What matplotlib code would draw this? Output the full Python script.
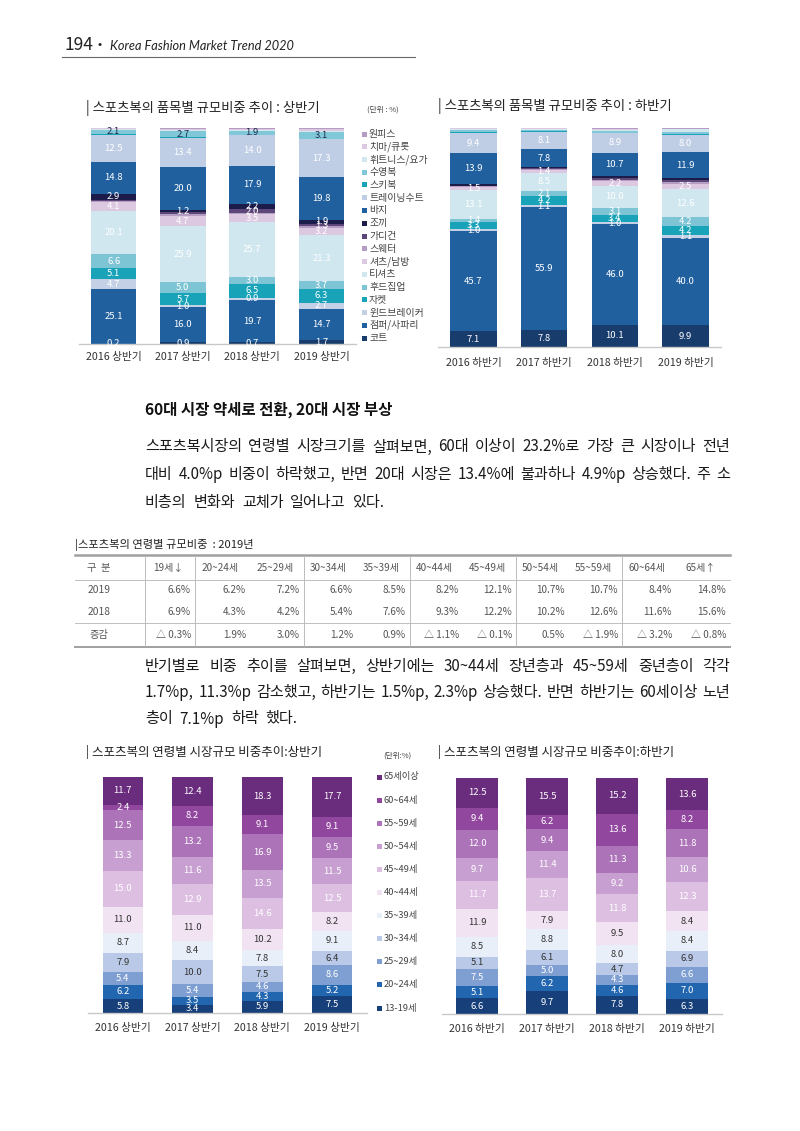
import matplotlib
matplotlib.use('Agg')
import matplotlib.pyplot as plt
from matplotlib.patches import Rectangle
from matplotlib.lines import Line2D
import numpy as np

plt.rcParams['font.family'] = ['Noto Sans CJK KR', 'DejaVu Sans']

# ---------------- data ----------------
cats_h1 = ['2016 상반기', '2017 상반기', '2018 상반기', '2019 상반기']
cats_h2 = ['2016 하반기', '2017 하반기', '2018 하반기', '2019 하반기']

items = ['코트', '점퍼/사파리', '윈드브레이커', '자켓', '후드집업', '티셔츠', '셔츠/남방',
         '스웨터', '가디건', '조끼', '바지', '트레이닝수트', '스키복', '수영복',
         '휘트니스/요가', '치마/큐롯', '원피스']

item_h1 = {
    '코트': [0.2, 0.9, 0.7, 1.7],
    '점퍼/사파리': [25.1, 16.0, 19.7, 14.7],
    '윈드브레이커': [4.7, 1.0, 0.9, 2.7],
    '자켓': [5.1, 5.7, 6.5, 6.3],
    '후드집업': [6.6, 5.0, 3.0, 3.7],
    '티셔츠': [20.1, 25.9, 25.7, 21.3],
    '셔츠/남방': [4.1, 4.7, 3.5, 3.2],
    '스웨터': [0.5, 0.8, 0.5, 0.8],
    '가디건': [0.3, 0.9, 2.0, 1.3],
    '조끼': [2.9, 1.2, 2.2, 1.9],
    '바지': [14.8, 20.0, 17.9, 19.8],
    '트레이닝수트': [12.5, 13.4, 14.0, 17.3],
    '스키복': [0.2, 0.3, 0.3, 0.3],
    '수영복': [2.1, 2.7, 1.9, 3.1],
    '휘트니스/요가': [0.4, 0.6, 0.3, 0.6],
    '치마/큐롯': [0.2, 0.6, 0.6, 0.9],
    '원피스': [0.2, 0.3, 0.3, 0.4],
}
item_h2 = {
    '코트': [7.1, 7.8, 10.1, 9.9],
    '점퍼/사파리': [45.7, 55.9, 46.0, 40.0],
    '윈드브레이커': [1.0, 1.1, 1.0, 1.1],
    '자켓': [3.3, 4.2, 3.4, 4.2],
    '후드집업': [1.4, 2.1, 3.1, 4.2],
    '티셔츠': [13.1, 8.5, 10.0, 12.6],
    '셔츠/남방': [1.5, 1.4, 2.2, 2.5],
    '스웨터': [0.3, 0.3, 0.6, 0.8],
    '가디건': [0.3, 0.3, 0.8, 0.9],
    '조끼': [0.8, 0.8, 0.9, 0.9],
    '바지': [13.9, 7.8, 10.7, 11.9],
    '트레이닝수트': [9.4, 8.1, 8.9, 8.0],
    '스키복': [0.2, 0.2, 0.2, 0.2],
    '수영복': [0.9, 0.7, 0.8, 0.8],
    '휘트니스/요가': [0.7, 0.4, 0.6, 1.4],
    '치마/큐롯': [0.2, 0.2, 0.4, 0.3],
    '원피스': [0.2, 0.2, 0.3, 0.3],
}
item_colors = {
    '코트': '#183c6c', '점퍼/사파리': '#21609f', '윈드브레이커': '#c3d0e6',
    '자켓': '#18a3b9', '후드집업': '#7dc4d4', '티셔츠': '#d0e7ef',
    '셔츠/남방': '#dcc8e1', '스웨터': '#b59cc3', '가디건': '#5d4678',
    '조끼': '#1b1c4a', '바지': '#21609f', '트레이닝수트': '#c0cee5',
    '스키복': '#18a3b9', '수영복': '#80c8d8', '휘트니스/요가': '#d3e7ee',
    '치마/큐롯': '#dcc8e1', '원피스': '#b59cc3',
}
quiet_items = ['스키복', '휘트니스/요가', '치마/큐롯', '원피스']

ages = ['13-19세', '20~24세', '25~29세', '30~34세', '35~39세', '40~44세',
        '45~49세', '50~54세', '55~59세', '60~64세', '65세이상']
age_h1 = {
    '13-19세': [5.8, 3.4, 5.9, 7.5],
    '20~24세': [6.2, 3.5, 4.3, 5.2],
    '25~29세': [5.4, 5.4, 4.6, 8.6],
    '30~34세': [7.9, 10.0, 7.5, 6.4],
    '35~39세': [8.7, 8.4, 7.8, 9.1],
    '40~44세': [11.0, 11.0, 10.2, 8.2],
    '45~49세': [15.0, 12.9, 14.6, 12.5],
    '50~54세': [13.3, 11.6, 13.5, 11.5],
    '55~59세': [12.5, 13.2, 16.9, 9.5],
    '60~64세': [2.4, 8.2, 9.1, 9.1],
    '65세이상': [11.7, 12.4, 18.3, 17.7],
}
age_h2 = {
    '13-19세': [6.6, 9.7, 7.8, 6.3],
    '20~24세': [5.1, 6.2, 4.6, 7.0],
    '25~29세': [7.5, 5.0, 4.3, 6.6],
    '30~34세': [5.1, 6.1, 4.7, 6.9],
    '35~39세': [8.5, 8.8, 8.0, 8.4],
    '40~44세': [11.9, 7.9, 9.5, 8.4],
    '45~49세': [11.7, 13.7, 11.8, 12.3],
    '50~54세': [9.7, 11.4, 9.2, 10.6],
    '55~59세': [12.0, 9.4, 11.3, 11.8],
    '60~64세': [9.4, 6.2, 13.6, 8.2],
    '65세이상': [12.5, 15.5, 15.2, 13.6],
}
age_colors = {
    '13-19세': '#173f7a', '20~24세': '#2266b0', '25~29세': '#7f9fd2',
    '30~34세': '#b9c9e7', '35~39세': '#e9eff9', '40~44세': '#f1e3f1',
    '45~49세': '#ddbfe2', '50~54세': '#c7a0d1', '55~59세': '#ac73b9',
    '60~64세': '#92479f', '65세이상': '#6a2c7d',
}
dark_label_ages = ['30~34세', '35~39세', '40~44세']

table_cols = ['19세↓', '20~24세', '25~29세', '30~34세', '35~39세', '40~44세',
              '45~49세', '50~54세', '55~59세', '60~64세', '65세↑']
share_2019 = [6.6, 6.2, 7.2, 6.6, 8.5, 8.2, 12.1, 10.7, 10.7, 8.4, 14.8]
share_2018 = [6.9, 4.3, 4.2, 5.4, 7.6, 9.3, 12.2, 10.2, 12.6, 11.6, 15.6]

para1 = ['스포츠복시장의 연령별 시장크기를 살펴보면, 60대 이상이 23.2%로 가장 큰 시장이나 전년',
         '대비 4.0%p 비중이 하락했고, 반면 20대 시장은 13.4%에 불과하나 4.9%p 상승했다. 주 소',
         '비층의 변화와 교체가 일어나고 있다.']
para2 = ['반기별로 비중 추이를 살펴보면, 상반기에는 30~44세 장년층과 45~59세 중년층이 각각',
         '1.7%p, 11.3%p 감소했고, 하반기는 1.5%p, 2.3%p 상승했다. 반면 하반기는 60세이상 노년',
         '층이 7.1%p 하락 했다.']

# ---------------- helpers ----------------
W, H = 800, 1131
fig = plt.figure(figsize=(8, 11.31), dpi=100)
fig.patch.set_facecolor('white')


def fx(x):
    return x / W


def fy(y):
    return 1 - y / H


def px_axes(x0, y0, x1, y1):
    ax = fig.add_axes([fx(x0), fy(y1), (x1 - x0) / W, (y1 - y0) / H])
    ax.patch.set_alpha(0)
    return ax


def hline(x0, x1, y, lw=0.8, color='#999999'):
    fig.add_artist(Line2D([fx(x0), fx(x1)], [fy(y), fy(y)], lw=lw, color=color,
                          transform=fig.transFigure))


def vline(x, y0, y1, lw=0.7, color='#bbbbbb'):
    fig.add_artist(Line2D([fx(x), fx(x)], [fy(y0), fy(y1)], lw=lw, color=color,
                          transform=fig.transFigure))


def ftext(x, y, s, **kw):
    kw.setdefault('va', 'center')
    return fig.text(fx(x), fy(y), s, **kw)


def stacked(ax, cats, names, data, colors, width, label_fn, pad):
    vals = np.array([data[n] for n in names], dtype=float)
    totals = vals.sum(axis=0)
    heights = vals / totals * 100.0
    x = np.arange(len(cats))
    bottom = np.zeros(len(cats))
    for i, n in enumerate(names):
        ax.bar(x, heights[i], width, bottom=bottom, color=colors[n], linewidth=0)
        for j in range(len(cats)):
            res = label_fn(n, vals[i, j])
            if res:
                ax.text(x[j], bottom[j] + heights[i, j] / 2, f'{vals[i, j]:.1f}',
                        ha='center', va='center', color=res, fontsize=6.8)
        bottom += heights[i]
    ax.set_xlim(-0.5, len(cats) - 0.5)
    ax.set_ylim(0, 100)
    ax.set_xticks(x, cats)
    ax.set_yticks([])
    for s in ['left', 'top', 'right']:
        ax.spines[s].set_visible(False)
    ax.spines['bottom'].set_color('#c8c8c8')
    ax.spines['bottom'].set_linewidth(1.0)
    ax.tick_params(axis='x', length=0, pad=pad, labelsize=7.7, labelcolor='#333333')


def item_label(n, v):
    if n in quiet_items:
        return None
    if v >= 1.0 or n in ('코트', '윈드브레이커'):
        return '#1d2b4f' if n == '수영복' else 'white'
    return None


def age_label(n, v):
    return '#333333' if n in dark_label_ages else 'white'


def legend(x, y0, step, names, colors, size):
    for k, n in enumerate(reversed(names)):
        y = y0 + k * step
        fig.add_artist(Rectangle((fx(x), fy(y + 2.5)), 5 / W, 5 / H, color=colors[n],
                                 transform=fig.transFigure, lw=0))
        ftext(x + 7, y, n, fontsize=size, color='#444444', ha='left')


renderer = fig.canvas.get_renderer()


def text_line(s, x0, x1, y, size, justify):
    words = s.split(' ')
    objs = [ftext(0, y, w, fontsize=size, ha='left', color='#1a1a1a') for w in words]
    widths = [o.get_window_extent(renderer).width for o in objs]
    if justify and len(words) > 1:
        gap = ((x1 - x0) - sum(widths)) / (len(words) - 1)
    else:
        gap = size * 0.45 * 100 / 72
    x = x0
    for o, w in zip(objs, widths):
        o.set_x(fx(x))
        x += w + gap


# ---------------- page header ----------------
ftext(65, 45, '194', fontsize=12.5, color='#222222', ha='left')
ftext(98, 45, '•', fontsize=9, color='#222222', ha='left')
ftext(110, 46, 'Korea Fashion Market Trend 2020', fontsize=9.2, style='italic',
      family=['Lato', 'DejaVu Sans'], color='#222222', ha='left')
hline(62, 415, 57, lw=0.8, color='#666666')

# ---------------- top charts ----------------
ftext(86, 108, '| 스포츠복의 품목별 규모비중 추이 : 상반기', fontsize=9.6, color='#222222', ha='left')
ftext(367, 110, '(단위 : %)', fontsize=5.5, color='#444444', ha='left')
ftext(438, 106, '| 스포츠복의 품목별 규모비중 추이 : 하반기', fontsize=9.6, color='#222222', ha='left')

ax1 = px_axes(79, 128, 356, 344)
stacked(ax1, cats_h1, items, item_h1, item_colors, 0.66, item_label, pad=6)
ax2 = px_axes(438, 128, 721, 347)
stacked(ax2, cats_h2, items, item_h2, item_colors, 0.66, item_label, pad=8)
legend(362, 134, 12.75, items, item_colors, 7.1)

# ---------------- heading and paragraph ----------------
ftext(145, 410, '60대 시장 약세로 전환, 20대 시장 부상', fontsize=11.2, weight='bold',
      color='#111111', ha='left')
for k, line in enumerate(para1):
    text_line(line, 145, 730, 447 + k * 27.5, 10.9, justify=(k < len(para1) - 1))

# ---------------- table ----------------
ftext(75, 545, '|스포츠복의 연령별 규모비중  : 2019년', fontsize=8.1, color='#222222', ha='left')
col_edges = [75, 145, 195, 250, 304, 357, 410, 463, 516, 569, 622, 676, 730]
hline(75, 730, 555, lw=1.8, color='#a0a0a0')
hline(75, 730, 580, lw=0.6, color='#b5b5b5')
hline(75, 730, 623, lw=0.6, color='#b5b5b5')
hline(75, 730, 647, lw=1.4, color='#a0a0a0')
for xs in [145, 195, 304, 410, 516, 622]:
    vline(xs, 556, 646)
row_y = [568, 590, 612, 635]
tcol = '#555555'
ftext(99, row_y[0], '구  분', fontsize=7.4, color=tcol, ha='center')
ftext(99, row_y[1], '2019', fontsize=7.4, color=tcol, ha='center')
ftext(99, row_y[2], '2018', fontsize=7.4, color=tcol, ha='center')
ftext(99, row_y[3], '증감', fontsize=7.4, color=tcol, ha='center')
for i, c in enumerate(table_cols):
    left, right = col_edges[i + 1], col_edges[i + 2]
    ftext((left + right) / 2 - 2, row_y[0], c, fontsize=7.2, color=tcol, ha='center')
    a, b = share_2019[i], share_2018[i]
    d = round(a - b, 1)
    ftext(right - 4, row_y[1], f'{a:.1f}%', fontsize=7.2, color=tcol, ha='right')
    ftext(right - 4, row_y[2], f'{b:.1f}%', fontsize=7.2, color=tcol, ha='right')
    dtxt = f'△ {abs(d):.1f}%' if d < 0 else f'{d:.1f}%'
    ftext(right - 4, row_y[3], dtxt, fontsize=7.2, color=tcol, ha='right')

# ---------------- second paragraph ----------------
for k, line in enumerate(para2):
    text_line(line, 145, 730, 666 + k * 26.5, 10.9, justify=(k < len(para2) - 1))

# ---------------- bottom charts ----------------
ftext(86, 752, '| 스포츠복의 연령별 시장규모 비중추이:상반기', fontsize=9.0, color='#222222', ha='left')
ftext(383, 756, '(단위:%)', fontsize=5.5, color='#444444', ha='left')
ftext(438, 752, '| 스포츠복의 연령별 시장규모 비중추이:하반기', fontsize=9.0, color='#222222', ha='left')

ax3 = px_axes(88, 777, 367, 1013)
stacked(ax3, cats_h1, ages, age_h1, age_colors, 0.58, age_label, pad=7)
ax4 = px_axes(442, 778, 722, 1014)
stacked(ax4, cats_h2, ages, age_h2, age_colors, 0.6, age_label, pad=7)
legend(377, 777, 23.1, ages, age_colors, 6.7)

fig.savefig('out.png', dpi=100, facecolor='white')
